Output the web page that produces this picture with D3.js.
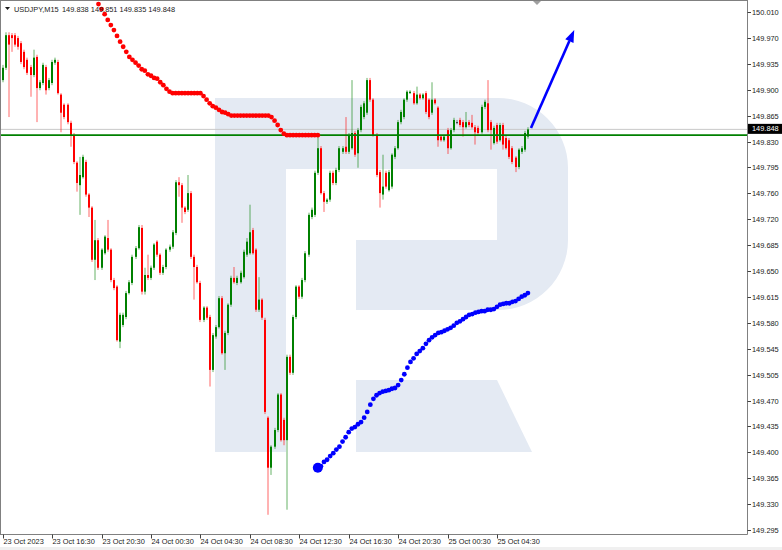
<!DOCTYPE html>
<html><head><meta charset="utf-8">
<script src="https://cdn.jsdelivr.net/npm/d3@7"></script>
<style>html,body{margin:0;padding:0;background:#fff;overflow:hidden}</style>
</head><body>
<svg id="chart" width="782" height="550"></svg>
<script>
// ---------------- DATA ----------------
const symbol = "USDJPY,M15";
const lastOHLC = ["149.838", "149.851", "149.835", "149.848"];

const timeLabels = ["23 Oct 2023", "23 Oct 16:30", "23 Oct 20:30", "24 Oct 00:30", "24 Oct 04:30",
  "24 Oct 08:30", "24 Oct 12:30", "24 Oct 16:30", "24 Oct 20:30", "25 Oct 00:30", "25 Oct 04:30"];
const timeLabelBars = [0, 16, 32, 48, 64, 80, 96, 112, 128, 144, 160];

const priceLabels = ["150.010", "149.970", "149.935", "149.900", "149.865", "149.830", "149.795",
  "149.760", "149.720", "149.685", "149.650", "149.615", "149.580", "149.545", "149.505",
  "149.470", "149.435", "149.400", "149.365", "149.330", "149.295"];

const opens = [
149.916,149.933,149.978,149.978,149.978,149.974,149.967,149.955,149.944,149.934,
149.923,149.948,149.905,149.912,149.934,149.905,149.912,149.940,149.941,149.896,
149.882,149.882,149.857,149.840,149.802,149.771,149.782,149.803,149.758,149.740,
149.668,149.695,149.657,149.677,149.698,149.682,149.640,149.631,149.555,149.578,
149.589,149.622,149.636,149.672,149.684,149.712,149.624,149.647,149.643,149.657,
149.693,149.675,149.650,149.658,149.682,149.686,149.705,149.775,149.771,149.740,
149.737,149.760,149.672,149.658,149.636,149.585,149.602,149.589,149.516,149.562,
149.575,149.615,149.539,149.567,149.606,149.643,149.636,149.637,149.644,149.675,
149.677,149.709,149.682,149.599,149.613,149.585,149.450,149.381,149.410,149.433,
149.482,149.447,149.419,149.534,149.512,149.589,149.631,149.617,149.640,149.675,
149.727,149.730,149.788,149.822,149.760,149.748,149.751,149.788,149.774,149.792,
149.817,149.824,149.817,149.822,149.843,149.815,149.847,149.865,149.871,149.916,
149.889,149.840,149.789,149.758,149.788,149.764,149.769,149.810,149.822,149.858,
149.865,149.889,149.898,149.898,149.884,149.896,149.891,149.898,149.889,149.871,
149.889,149.878,149.838,149.833,149.847,149.822,149.847,149.858,149.861,149.858,
149.851,149.858,149.857,149.851,149.850,149.844,149.879,149.884,149.858,149.829,
149.854,149.833,149.854,149.836,149.833,149.822,149.809,149.796,149.817,149.820,
149.838];
const highs = [
149.937,149.982,149.982,149.981,149.981,149.977,149.970,149.958,149.947,149.937,
149.958,149.951,149.916,149.940,149.937,149.919,149.944,149.947,149.944,149.898,
149.884,149.884,149.860,149.843,149.804,149.810,149.813,149.806,149.760,149.742,
149.723,149.698,149.684,149.702,149.723,149.684,149.643,149.633,149.595,149.595,
149.625,149.640,149.675,149.687,149.716,149.716,149.657,149.675,149.660,149.691,
149.695,149.677,149.661,149.684,149.689,149.709,149.778,149.782,149.774,149.742,
149.785,149.763,149.675,149.661,149.639,149.604,149.604,149.592,149.567,149.578,
149.618,149.618,149.570,149.608,149.646,149.658,149.646,149.653,149.682,149.698,
149.744,149.712,149.684,149.644,149.615,149.588,149.452,149.412,149.436,149.484,
149.484,149.450,149.537,149.537,149.592,149.633,149.633,149.643,149.680,149.733,
149.740,149.791,149.840,149.825,149.763,149.753,149.791,149.791,149.795,149.825,
149.825,149.865,149.843,149.916,149.846,149.850,149.882,149.887,149.919,149.919,
149.891,149.843,149.792,149.813,149.791,149.792,149.815,149.825,149.861,149.875,
149.891,149.902,149.902,149.901,149.907,149.898,149.898,149.901,149.891,149.913,
149.891,149.880,149.840,149.840,149.850,149.850,149.864,149.861,149.864,149.861,
149.872,149.861,149.868,149.854,149.853,149.882,149.889,149.916,149.861,149.853,
149.857,149.857,149.857,149.839,149.836,149.825,149.811,149.822,149.825,149.846,
149.851];
const lows = [
149.913,149.930,149.865,149.955,149.962,149.958,149.938,149.931,149.923,149.893,
149.920,149.858,149.902,149.909,149.896,149.902,149.909,149.937,149.896,149.844,
149.862,149.855,149.824,149.800,149.762,149.730,149.780,149.755,149.727,149.665,
149.640,149.654,149.654,149.675,149.679,149.637,149.626,149.555,149.546,149.575,
149.586,149.620,149.633,149.669,149.682,149.620,149.620,149.640,149.640,149.654,
149.672,149.647,149.647,149.655,149.679,149.683,149.702,149.755,149.719,149.731,
149.734,149.669,149.613,149.635,149.582,149.582,149.585,149.493,149.513,149.559,
149.573,149.537,149.516,149.564,149.603,149.635,149.633,149.635,149.642,149.672,
149.675,149.675,149.596,149.596,149.585,149.455,149.316,149.371,149.407,149.430,
149.417,149.412,149.323,149.509,149.509,149.586,149.614,149.614,149.637,149.672,
149.724,149.727,149.785,149.758,149.734,149.745,149.748,149.771,149.771,149.789,
149.814,149.814,149.814,149.820,149.810,149.795,149.844,149.862,149.868,149.886,
149.838,149.782,149.740,149.751,149.766,149.762,149.766,149.807,149.820,149.855,
149.862,149.886,149.897,149.882,149.882,149.889,149.889,149.869,149.862,149.868,
149.882,149.824,149.831,149.831,149.814,149.820,149.844,149.855,149.851,149.838,
149.849,149.851,149.849,149.827,149.840,149.842,149.876,149.844,149.820,149.827,
149.828,149.831,149.820,149.820,149.807,149.800,149.789,149.793,149.814,149.817,
149.835];
const closes = [
149.933,149.978,149.965,149.974,149.965,149.962,149.941,149.934,149.926,149.923,
149.947,149.905,149.913,149.937,149.902,149.916,149.941,149.944,149.898,149.871,
149.865,149.858,149.840,149.803,149.774,149.785,149.810,149.758,149.740,149.668,
149.695,149.657,149.682,149.700,149.682,149.640,149.629,149.557,149.592,149.592,
149.622,149.637,149.672,149.684,149.713,149.624,149.647,149.643,149.657,149.689,
149.675,149.650,149.658,149.682,149.686,149.706,149.775,149.771,149.740,149.734,
149.760,149.672,149.658,149.637,149.585,149.602,149.588,149.516,149.564,149.575,
149.615,149.539,149.567,149.606,149.643,149.637,149.643,149.650,149.679,149.693,
149.706,149.677,149.599,149.613,149.588,149.458,149.381,149.410,149.433,149.482,
149.419,149.419,149.534,149.512,149.589,149.631,149.617,149.640,149.677,149.730,
149.737,149.788,149.822,149.760,149.748,149.751,149.788,149.774,149.792,149.822,
149.822,149.817,149.840,149.843,149.813,149.847,149.879,149.884,149.916,149.889,
149.840,149.785,149.760,149.769,149.769,149.789,149.813,149.822,149.858,149.872,
149.889,149.900,149.900,149.884,149.896,149.891,149.896,149.872,149.865,149.889,
149.884,149.833,149.833,149.838,149.822,149.847,149.861,149.858,149.854,149.851,
149.858,149.854,149.851,149.844,149.843,149.879,149.886,149.847,149.847,149.850,
149.831,149.854,149.827,149.822,149.810,149.803,149.796,149.820,149.822,149.843,
149.848];

// red dotted indicator, starting at bar 31
const redDotsStart = 31;
const redDots = [
150.021,150.014,150.007,149.999,149.992,149.985,149.977,149.969,149.962,149.955,
149.948,149.944,149.940,149.936,149.931,149.929,149.924,149.922,149.919,149.918,
149.913,149.909,149.904,149.900,
149.898,149.898,149.898,149.898,149.898,149.898,149.898,149.898,149.898,149.898,
149.894,149.889,149.884,149.880,149.878,149.875,149.872,149.871,149.869,149.867,
149.867,149.867,149.867,149.867,149.867,149.867,149.867,149.867,149.867,149.867,149.867,149.867,
149.865,149.860,149.854,149.847,149.842,
149.840,149.840,149.840,149.840,149.840,149.840,149.840,149.840,149.840,149.840,149.840];

// blue dotted indicator, starting at bar 102
const blueDotsStart = 102;
const blueDots = [
149.381,149.383,149.389,149.392,149.397,149.401,149.406,149.410,149.417,149.423,
149.430,149.435,149.437,149.441,149.444,149.450,149.458,149.468,149.476,149.481,
149.484,149.486,149.487,149.488,149.490,149.491,149.495,149.502,149.510,149.519,
149.527,149.532,149.538,149.542,149.546,149.552,149.557,149.561,149.564,149.567,
149.568,149.570,149.572,149.574,149.577,149.581,149.583,149.586,149.589,149.592,
149.593,149.595,149.596,149.597,149.597,149.599,149.599,149.600,149.603,149.606,
149.607,149.608,149.608,149.610,149.611,149.614,149.617,149.619,149.622];

const levelPrice = 149.840;   // green horizontal level
const bidPrice = 149.848;     // current bid
const arrowBars = [171, 185];
const arrowPrices = [149.850, 149.985];

// ---------------- DRAW ----------------
const svg = d3.select("#chart");
const font = "'Liberation Sans', Arial, sans-serif";
const plotL = 1, plotR = 747, plotT = 1, plotB = 534;

const x = d3.scaleLinear().domain([0, 160]).range([2.7, 497]);
const y = d3.scaleLinear().domain([149.295, 150.010]).range([530, 12]);
const yTicks = d3.scalePoint().domain(priceLabels).range([y(150.010), y(149.295)]);

svg.append("rect").attr("width", 782).attr("height", 550).attr("fill", "#fff");
svg.append("rect").attr("x", 0).attr("y", 547).attr("width", 782).attr("height", 3).attr("fill", "#f0f0f0");

// watermark logo
const wm = svg.append("g").attr("fill", "#e4eaf3");
wm.append("rect").attr("x", 215).attr("y", 98).attr("width", 71).attr("height", 354);
wm.append("path").attr("d", "M286,98 H498 A70,70 0 0 1 568,168 V240 A70,70 0 0 1 498,310 H356 V240 H497 V169 H286 Z");
wm.append("path").attr("d", "M356,380 H497 L532,452 H356 Z");

const clip = svg.append("clipPath").attr("id", "plotclip")
  .append("rect").attr("x", plotL).attr("y", plotT).attr("width", plotR - plotL).attr("height", plotB - plotT);
const plot = svg.append("g").attr("clip-path", "url(#plotclip)");

// bid line
plot.append("line").attr("x1", plotL).attr("x2", plotR)
  .attr("y1", y(bidPrice)).attr("y2", y(bidPrice)).attr("stroke", "#c8c8c8").attr("stroke-width", 1);

// candles
const bars = d3.range(opens.length).map(i => ({i, o: opens[i], h: highs[i], l: lows[i], c: closes[i]}));
const col = d => d.c > d.o ? "#008000" : (d.c < d.o ? "#ff0000" : "#333333");
const cg = plot.append("g");
cg.selectAll("line.wick").data(bars).join("line")
  .attr("x1", d => Math.round(x(d.i))).attr("x2", d => Math.round(x(d.i)))
  .attr("y1", d => y(d.h)).attr("y2", d => y(d.l))
  .attr("stroke", col).attr("stroke-width", 1).attr("stroke-opacity", 0.6);
cg.selectAll("rect.body").data(bars).join("rect")
  .attr("x", d => Math.round(x(d.i)) - 1).attr("width", 2)
  .attr("y", d => y(Math.max(d.o, d.c)))
  .attr("height", d => Math.max(1, Math.abs(y(d.o) - y(d.c))))
  .attr("fill", col);

// green level
plot.append("line").attr("x1", plotL).attr("x2", plotR)
  .attr("y1", y(levelPrice)).attr("y2", y(levelPrice)).attr("stroke", "#008000").attr("stroke-width", 1.6);

// red dots
plot.append("g").selectAll("circle").data(redDots).join("circle")
  .attr("cx", (d, k) => x(redDotsStart + k)).attr("cy", d => y(d))
  .attr("r", 2.4).attr("fill", "#ff0000");

// blue dots
plot.append("g").selectAll("circle").data(blueDots).join("circle")
  .attr("cx", (d, k) => x(blueDotsStart + k)).attr("cy", d => y(d))
  .attr("r", (d, k) => k === 0 ? 5 : 2.4).attr("fill", "#0000ff");

// blue arrow
const ax1 = x(arrowBars[0]), ay1 = y(arrowPrices[0]), ax2 = x(arrowBars[1]), ay2 = y(arrowPrices[1]);
const ang = Math.atan2(ay2 - ay1, ax2 - ax1), hl = 12, hw = 4.5;
const bx = ax2 - hl * Math.cos(ang), by = ay2 - hl * Math.sin(ang);
svg.append("line").attr("x1", ax1).attr("y1", ay1).attr("x2", bx).attr("y2", by)
  .attr("stroke", "#0000ff").attr("stroke-width", 2.6);
svg.append("path").attr("fill", "#0000ff")
  .attr("d", `M${ax2},${ay2} L${bx + hw * Math.sin(ang)},${by - hw * Math.cos(ang)} L${bx - hw * Math.sin(ang)},${by + hw * Math.cos(ang)} Z`);

// frame
const fr = svg.append("g").attr("stroke", "#808080").attr("stroke-width", 1);
fr.append("line").attr("x1", 0.5).attr("x2", 0.5).attr("y1", 0).attr("y2", plotB + 0.5);
fr.append("line").attr("x1", 0).attr("x2", plotR + 0.5).attr("y1", 0.5).attr("y2", 0.5);
fr.append("line").attr("x1", plotR + 0.5).attr("x2", plotR + 0.5).attr("y1", 0).attr("y2", plotB + 0.5);
fr.append("line").attr("x1", 0).attr("x2", plotR + 0.5).attr("y1", plotB + 0.5).attr("y2", plotB + 0.5);

// shift marker
svg.append("path").attr("d", "M533,1 L541,1 L537,5 Z").attr("fill", "#a0a0a0");

// price axis
const pa = svg.append("g");
priceLabels.forEach(lbl => {
  const yy = Math.round(yTicks(lbl)) + 0.5;
  pa.append("line").attr("x1", plotR + 0.5).attr("x2", plotR + 4).attr("y1", yy).attr("y2", yy)
    .attr("stroke", "#404040").attr("stroke-width", 1);
  pa.append("text").attr("x", 752).attr("y", yy).attr("dy", "0.35em")
    .attr("font-family", font).attr("font-size", 7.4).attr("fill", "#1a1a1a").text(lbl);
});
// bid label
const yb = y(bidPrice);
svg.append("rect").attr("x", 748).attr("y", yb - 5.5).attr("width", 34).attr("height", 10).attr("fill", "#000");
svg.append("text").attr("x", 752).attr("y", yb - 0.5).attr("dy", "0.35em")
  .attr("font-family", font).attr("font-size", 7.4).attr("fill", "#fff").text(bidPrice.toFixed(3));

// time axis
const ta = svg.append("g");
timeLabels.forEach((lbl, k) => {
  const xx = Math.round(x(timeLabelBars[k])) + 0.5;
  ta.append("line").attr("x1", xx).attr("x2", xx).attr("y1", plotB + 0.5).attr("y2", plotB + 4.5)
    .attr("stroke", "#404040").attr("stroke-width", 1);
  ta.append("text").attr("x", xx).attr("y", 543.5)
    .attr("font-family", font).attr("font-size", 7.4).attr("fill", "#1a1a1a").text(lbl);
});

// title
svg.append("path").attr("d", "M5,7 L10,7 L7.5,10 Z").attr("fill", "#1a1a1a");
svg.append("text").attr("x", 14).attr("y", 12).attr("font-family", font).attr("font-size", 7.4)
  .attr("fill", "#1a1a1a").text(symbol);
svg.append("text").attr("x", 62).attr("y", 12).attr("font-family", font).attr("font-size", 7.4)
  .attr("fill", "#1a1a1a").text(lastOHLC.join(" "));
</script>
</body></html>
